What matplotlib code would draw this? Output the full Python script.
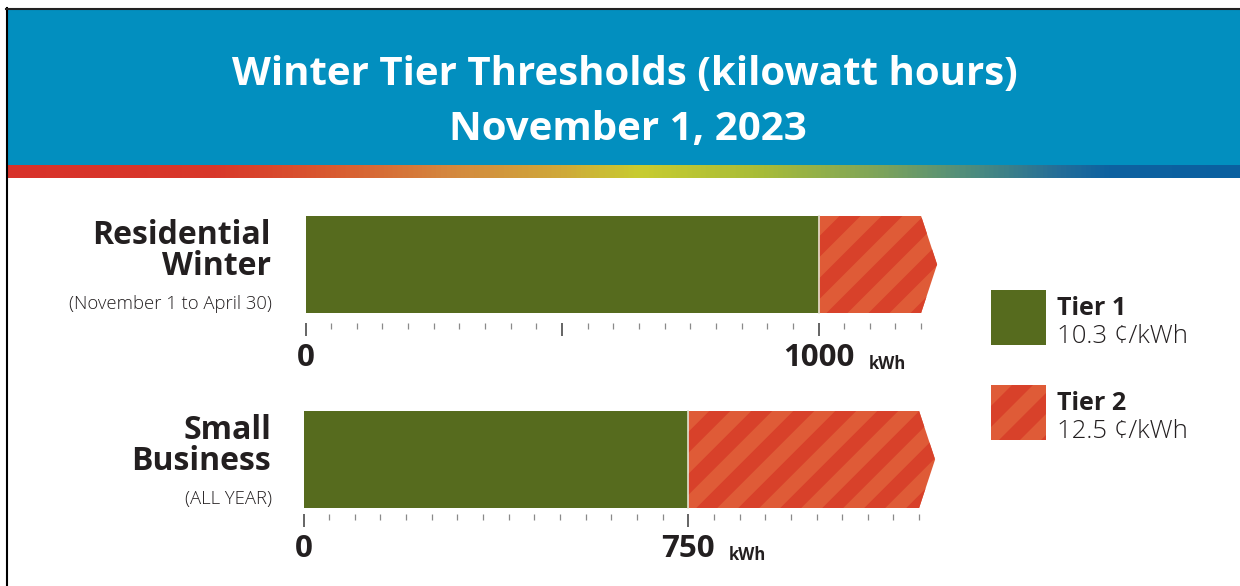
import numpy as np
import matplotlib.pyplot as plt
from matplotlib.patches import Rectangle, Polygon
from matplotlib.colors import LinearSegmentedColormap

plt.rcParams['font.family'] = ['Open Sans', 'DejaVu Sans']

# chart content
title_lines = ['Winter Tier Thresholds (kilowatt hours)', 'November 1, 2023']
categories = ['Residential\nWinter', 'Small\nBusiness']
periods = ['(November 1 to April 30)', '(ALL YEAR)']
tier1_kwh = [1000, 750]
scale_end_kwh = [1200, 1200]
major_ticks = [[0, 500, 1000], [0, 750]]
major_labels = [['0', '', '1000'], ['0', '750']]
tick_step = 50
tier_names = ['Tier 1', 'Tier 2']
tier_rates = ['10.3 ¢/kWh', '12.5 ¢/kWh']

# look
W, H = 1240, 586
BLUE = '#028fbf'
GREEN = '#566b1e'
RED_LT = '#df5b37'
RED_DK = '#d8412a'
INK = '#231f20'
PPK = 0.513      # pixels per kWh
TIP = 16         # arrow tip, px
zero_px = [305.5, 303.5]
bar_top = [216, 411]
bar_h = 97
axis_px = [323, 514]

band_stops = [(8, '#d8322a'), (215, '#d8382a'), (330, '#d95a30'), (450, '#d4883f'),
              (560, '#cfa83a'), (640, '#c8cc30'), (760, '#a8bc38'), (880, '#7ea45a'),
              (980, '#4a8a80'), (1060, '#256e98'), (1110, '#0e62a0'), (1240, '#0a60a0')]


def stripes(ax, clip, x0, x1, top, bot, to_x, period=42, width=21):
    for k in np.arange(x0 + top - width - period, x1 + bot + period, period):
        pts = [(k - top, top), (k + width - top, top), (k + width - bot, bot), (k - bot, bot)]
        p = Polygon([(to_x(x), y) for x, y in pts], closed=True, fc=RED_DK, ec='none', zorder=3)
        ax.add_patch(p)
        p.set_clip_path(clip)


fig = plt.figure(figsize=(W / 100, H / 100), dpi=100)
bg = fig.add_axes([0, 0, 1, 1])

# header
bg.add_patch(Rectangle((8, 9), W - 8, 156, fc=BLUE, ec='none'))
cmap = LinearSegmentedColormap.from_list('band', [((p - 8) / (W - 8), c) for p, c in band_stops])
bg.imshow(np.linspace(0, 1, 800)[None, :], cmap=cmap, extent=(8, W, 178, 165), aspect='auto')
bg.plot([7, 7], [8, H], color='black', lw=1.5)
bg.plot([6.3, W], [8.5, 8.5], color='#222222', lw=1.5)
bg.text(625, 85, title_lines[0], ha='center', va='baseline', fontsize=29, weight='bold', color='white')
bg.text(628, 140, title_lines[1], ha='center', va='baseline', fontsize=29, weight='bold', color='white')

# row labels
for i in range(len(categories)):
    t = bar_top[i]
    bg.text(271, t + 59, categories[i], ha='right', va='baseline', fontsize=23, weight='bold',
            color=INK, linespacing=0.92, multialignment='right')
    bg.text(272, t + 93, periods[i], ha='right', va='baseline', fontsize=13.3, weight='light', color=INK)

# legend
for j in range(len(tier_names)):
    top = 290 + 95 * j
    sw = Rectangle((991, top), 55, 55, fc=GREEN if j == 0 else RED_LT, ec='none')
    bg.add_patch(sw)
    if j == 1:
        stripes(bg, sw, 991, 1046, top, top + 55, lambda x: x)
    bg.text(1057, top + 25, tier_names[j], ha='left', va='baseline', fontsize=18, weight='bold', color=INK)
    bg.text(1057, top + 53, tier_rates[j], ha='left', va='baseline', fontsize=18.5, weight='light', color=INK)

bg.set_xlim(0, W)
bg.set_ylim(H, 0)
bg.axis('off')

# bars
for i in range(len(categories)):
    x_lo, x_hi = -60, 1300
    top_px = bar_top[i] - 10
    left_px = zero_px[i] + x_lo * PPK
    ax = fig.add_axes([left_px / W, 1 - axis_px[i] / H, (x_hi - x_lo) * PPK / W, (axis_px[i] - top_px) / H])
    ax.set_xlim(x_lo, x_hi)
    ax.set_ylim(axis_px[i], top_px)
    ax.patch.set_visible(False)

    t1 = tier1_kwh[i]
    end = scale_end_kwh[i]
    tip = TIP / PPK
    yt, yb = bar_top[i], bar_top[i] + bar_h
    yc = (yt + yb) / 2
    ax.barh(yc, t1, height=bar_h, left=0, color=GREEN, zorder=2)
    shape = Polygon([(t1, yt), (end, yt), (end + tip, yc), (end, yb), (t1, yb)],
                    closed=True, fc=RED_LT, ec='none', zorder=2)
    ax.add_patch(shape)
    z = zero_px[i]
    stripes(ax, shape, z + t1 * PPK, z + (end * PPK) + TIP, yt, yb, lambda x, z=z: (x - z) / PPK)
    ax.plot([t1, t1], [yt, yb], color='#dfe3cf', lw=1.2, zorder=4)

    for s in ax.spines.values():
        s.set_visible(False)
    ax.set_yticks([])
    ax.set_xticks(major_ticks[i], major_labels[i])
    ax.set_xticks(np.arange(0, end + 1, tick_step), minor=True)
    ax.tick_params(axis='x', which='major', length=9.4, width=1.1, color='#3a3a3a', pad=5,
                   labelsize=22.5, labelcolor=INK)
    ax.tick_params(axis='x', which='minor', length=4.3, width=0.9, color='#8a8a8a')
    for lab in ax.get_xticklabels():
        lab.set_fontweight('bold')
    dx = (len(str(t1)) * 9 + 14) * 0.72
    ax.annotate('kWh', xy=(t1, 0), xycoords=('data', 'axes fraction'), xytext=(dx, -46 * 0.72),
                textcoords='offset points', ha='left', va='baseline', fontsize=12, weight='bold', color=INK)

fig.savefig('out.png', dpi=100)
